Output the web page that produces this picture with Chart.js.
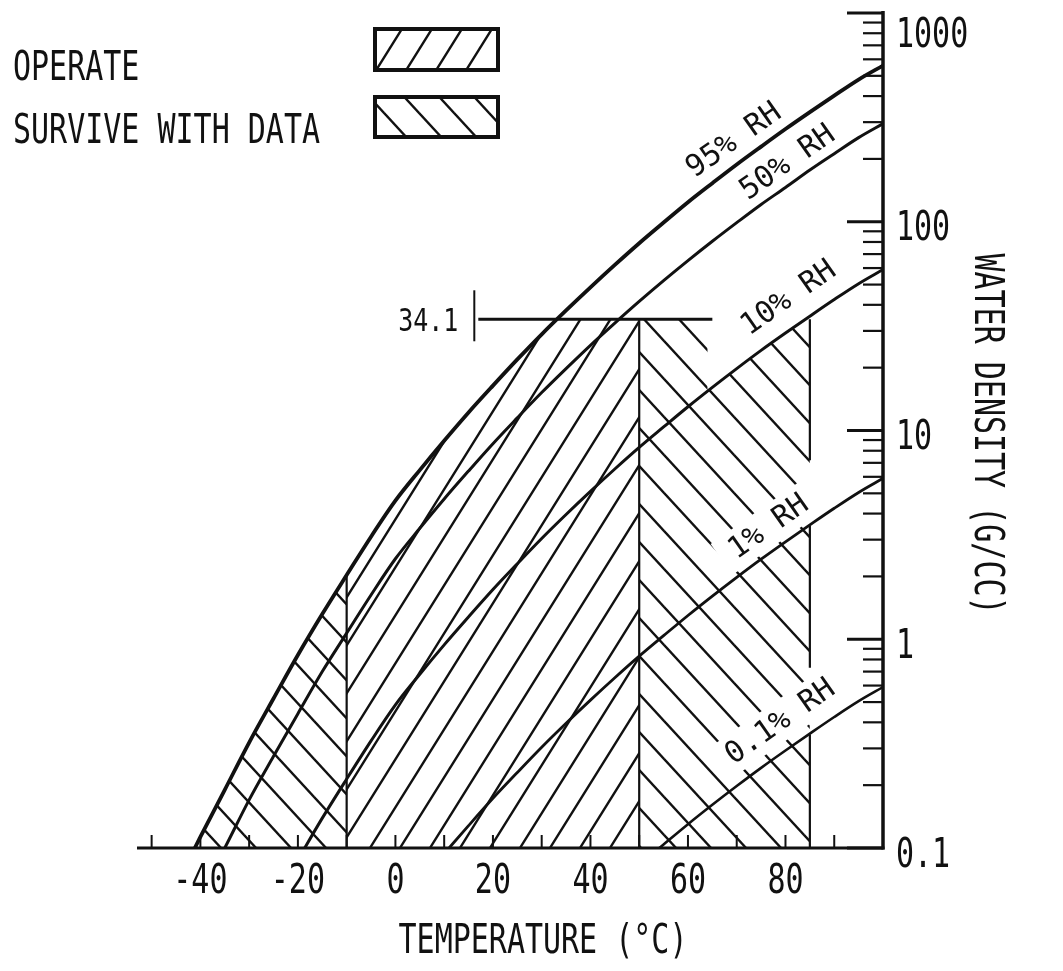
<!DOCTYPE html>
<html><head><meta charset="utf-8">
<script src="https://cdn.jsdelivr.net/npm/chart.js@4.4.1/dist/chart.umd.min.js"></script>
<style>html,body{margin:0;padding:0;background:#fff}#wrap{width:1063px;height:971px;position:relative}</style>
</head><body><div id="wrap"><canvas id="c"></canvas></div>
<script>
// ---- data ----
const temps = [-45,-40,-35,-30,-25,-20,-15,-10,-5,0,5,10,15,20,25,30,35,40,45,50,55,60,65,70,75,80,85,90,95,100];
const rh95 = [0.066,0.113,0.19,0.32,0.52,0.84,1.32,2.03,3.10,4.61,6.46,8.93,12.2,16.4,21.9,28.9,37.6,48.5,62.1,78.9,99.1,124,153,188,229,278,335,402,480,560];
const rh50 = [null,0.06,0.10,0.17,0.275,0.44,0.70,1.07,1.63,2.43,3.40,4.70,6.40,8.65,11.5,15.2,19.8,25.6,32.7,41.5,52.2,65.1,80.6,99.0,121,146,177,212,253,295];
const rh10 = [null,null,null,null,null,0.088,0.139,0.214,0.326,0.485,0.68,0.94,1.28,1.73,2.30,3.04,3.96,5.11,6.54,8.30,10.4,13.0,16.1,19.8,24.2,29.3,35.3,42.4,50.5,59.0];
const rh1  = [null,null,null,null,null,null,null,null,null,null,null,0.094,0.128,0.173,0.230,0.304,0.396,0.511,0.654,0.83,1.04,1.30,1.61,1.98,2.42,2.93,3.53,4.24,5.05,5.9];
const rh01 = [null,null,null,null,null,null,null,null,null,null,null,null,null,null,null,null,null,null,null,0.083,0.104,0.130,0.161,0.198,0.242,0.293,0.353,0.424,0.505,0.59];

const curveLabels = ['95% RH','50% RH','10% RH','1% RH','0.1% RH'];
const curveLabelT = [69.5, 80.5, 80.7, 76.6, 79.0];
const curveLabelV = [244, 191, 42.9, 3.43, 0.40];

const operateT = [-10,-5,0,5,10,15,20,25,30,33,50];
const operateV = [2.03,3.10,4.61,6.46,8.93,12.2,16.4,21.9,28.9,34.1,34.1];
const surviveLowT = [-41,-40,-35,-30,-25,-20,-15,-10];
const surviveLowV = [0.1,0.113,0.19,0.32,0.52,0.84,1.32,2.03];
const surviveHighT = [50,64,64,65,70,75,80,85];
const surviveHighV = [34.1,34.1,15.5,16.1,19.8,24.2,29.3,34.1];

const limitValue = 34.1;
const limitT = [17, 65];
const limitLabel = '34.1';
const edgeLowT = -10, edgeLowTop = 2.03;
const edgeMidT = 50;
const edgeHighT = 85;
const edgeHighSegs = [[34.1, 7.2], [3.5, 0.73], [0.35, 0.1]];

const xTickValues = [-50,-40,-30,-20,-10,0,10,20,30,40,50,60,70,80,90];
const xLabelValues = [-40,-20,0,20,40,60,80];
const yMajorValues = [0.1,1,10,100,1000];
const yTickLabels = ['0.1','1','10','100','1000'];
const legendLabels = ['OPERATE','SURVIVE WITH DATA'];
const xTitle = 'TEMPERATURE (°C)';
const yTitle = 'WATER DENSITY (G/CC)';

// ---- helpers ----
const canvas = document.getElementById('c');
const ctx0 = canvas.getContext('2d');
function makeHatch(w, h, rising, lw) {
  const c = document.createElement('canvas'); c.width = w; c.height = h;
  const g = c.getContext('2d');
  g.strokeStyle = '#111'; g.lineWidth = lw; g.lineCap = 'square';
  for (const dx of [-w, 0, w]) {
    g.beginPath();
    if (rising) { g.moveTo(dx, h); g.lineTo(dx + w, 0); }
    else { g.moveTo(dx, 0); g.lineTo(dx + w, h); }
    g.stroke();
  }
  return ctx0.createPattern(c, 'repeat');
}
const patOperate = makeHatch(30, 48, true, 2.4);
const patSurvive = makeHatch(35, 38, false, 2.4);

const pts = (T, V) => T.map((t, i) => V[i] == null ? null : {x: t, y: V[i]}).filter(p => p);
const FONT = '"DejaVu Sans Mono", "Liberation Mono", monospace';
function txt(ctx, s, x, y, o) {
  ctx.save();
  ctx.translate(x, y);
  if (o.rot) ctx.rotate(o.rot);
  ctx.scale(o.sx || 1, 1);
  ctx.font = `${o.size}px ${FONT}`;
  ctx.textAlign = o.align || 'left';
  ctx.textBaseline = o.base || 'alphabetic';
  ctx.fillStyle = '#111';
  ctx.fillText(s, 0, 0);
  ctx.restore();
}
const LABEL_ROT = -35 * Math.PI / 180;
const boxedLabels = [3, 4];

const deco = {
  id: 'deco',
  beforeDatasetsDraw(chart) {
    const {ctx, scales: {x, y}} = chart;
    ctx.save();
    ctx.font = `30px ${FONT}`;
    boxedLabels.forEach(i => {
      const w = ctx.measureText(curveLabels[i]).width;
      ctx.save();
      ctx.translate(x.getPixelForValue(curveLabelT[i]), y.getPixelForValue(curveLabelV[i]));
      ctx.rotate(LABEL_ROT);
      ctx.fillStyle = '#fff';
      ctx.fillRect(-w / 2 - 12, -20, w + 24, 38);
      ctx.restore();
    });
    ctx.restore();
  },
  afterDatasetsDraw(chart) {
    const {ctx, chartArea: a, scales: {x, y}} = chart;
    ctx.save();
    ctx.strokeStyle = '#111';
    ctx.lineCap = 'butt';
    // axes
    ctx.lineWidth = 3;
    ctx.beginPath(); ctx.moveTo(a.left, a.bottom); ctx.lineTo(a.right + 1.5, a.bottom); ctx.stroke();
    ctx.lineWidth = 3.5;
    ctx.beginPath(); ctx.moveTo(a.right, a.top - 2); ctx.lineTo(a.right, a.bottom + 1.5); ctx.stroke();
    // x ticks (pointing up)
    ctx.lineWidth = 2;
    xTickValues.forEach(v => {
      const px = x.getPixelForValue(v);
      ctx.beginPath(); ctx.moveTo(px, a.bottom); ctx.lineTo(px, a.bottom - 13); ctx.stroke();
    });
    // y ticks (pointing left)
    yMajorValues.forEach((v, i) => {
      const py = y.getPixelForValue(v);
      ctx.lineWidth = 3;
      ctx.beginPath(); ctx.moveTo(a.right, py); ctx.lineTo(a.right - 36, py); ctx.stroke();
      if (i < yMajorValues.length - 1) {
        ctx.lineWidth = 2.2;
        for (let m = 2; m <= 9; m++) {
          const pm = y.getPixelForValue(v * m);
          ctx.beginPath(); ctx.moveTo(a.right, pm); ctx.lineTo(a.right - 20, pm); ctx.stroke();
        }
      }
    });
    // 34.1 marker bar
    const ly = y.getPixelForValue(limitValue);
    const lx = x.getPixelForValue(limitT[0]);
    ctx.lineWidth = 2;
    ctx.beginPath(); ctx.moveTo(lx - 4, ly - 29); ctx.lineTo(lx - 4, ly + 22); ctx.stroke();
    txt(ctx, limitLabel, lx - 20, ly + 11.5, {size: 32, sx: 0.78, align: 'right'});

    // tick labels
    xLabelValues.forEach(v => {
      txt(ctx, String(v), x.getPixelForValue(v), a.bottom + 45, {size: 40, sx: 0.75, align: 'center'});
    });
    yMajorValues.forEach((v, i) => {
      let cy = y.getPixelForValue(v) + 4;
      cy = Math.max(cy, a.top + 19);
      txt(ctx, yTickLabels[i], a.right + 13, cy + 14.5, {size: 40, sx: 0.75});
    });
    // titles
    txt(ctx, xTitle, 543, a.bottom + 105, {size: 40, sx: 0.75, align: 'center'});
    txt(ctx, yTitle, 985, 434, {size: 40, sx: 0.75, align: 'center', base: 'middle', rot: Math.PI / 2});
    // curve labels
    curveLabels.forEach((s, i) => {
      txt(ctx, s, x.getPixelForValue(curveLabelT[i]), y.getPixelForValue(curveLabelV[i]),
          {size: 30, align: 'center', base: 'middle', rot: LABEL_ROT});
    });
    // legend
    const boxes = [[375, 29, 123, 41], [375, 97, 123, 40]];
    const pats = [patOperate, patSurvive];
    const baselines = [80, 143];
    legendLabels.forEach((s, i) => {
      txt(ctx, s, 13, baselines[i], {size: 40, sx: 0.75});
      const [bx, by, bw, bh] = boxes[i];
      ctx.fillStyle = pats[i];
      ctx.fillRect(bx, by, bw, bh);
      ctx.lineWidth = 4;
      ctx.strokeRect(bx, by, bw, bh);
    });
    ctx.restore();
  }
};

const curveStyle = (data, w) => ({data, showLine: true, borderColor: '#111', borderWidth: w, pointRadius: 0,
  fill: false, tension: 0.3, cubicInterpolationMode: 'monotone', order: 1});
const regionStyle = (data, pat) => ({data, showLine: true, borderWidth: 0, borderColor: 'rgba(0,0,0,0)',
  backgroundColor: pat, pointRadius: 0, fill: 'start', tension: 0, order: 10});
const segStyle = (data, w) => ({data, showLine: true, borderColor: '#111', borderWidth: w, pointRadius: 0,
  fill: false, tension: 0, order: 2});

const datasets = [
  regionStyle(pts(operateT, operateV), patOperate),
  regionStyle(pts(surviveLowT, surviveLowV), patSurvive),
  regionStyle(pts(surviveHighT, surviveHighV), patSurvive),
  curveStyle(pts(temps, rh95), 3.8),
  curveStyle(pts(temps, rh50), 3),
  curveStyle(pts(temps, rh10), 3),
  curveStyle(pts(temps, rh1), 2.8),
  curveStyle(pts(temps, rh01), 2.6),
  segStyle(limitT.map(t => ({x: t, y: limitValue})), 3),
  segStyle([{x: edgeLowT, y: 0.1}, {x: edgeLowT, y: edgeLowTop}], 2.2),
  segStyle([{x: edgeMidT, y: 0.1}, {x: edgeMidT, y: limitValue}], 2.2),
  ...edgeHighSegs.map(s => segStyle([{x: edgeHighT, y: s[0]}, {x: edgeHighT, y: s[1]}], 2.2))
];

new Chart(canvas, {
  type: 'scatter',
  data: {datasets},
  options: {
    animation: false,
    responsive: true,
    maintainAspectRatio: false,
    devicePixelRatio: 1,
    layout: {padding: {left: 137, right: 180, top: 13, bottom: 123}},
    scales: {
      x: {type: 'linear', min: -53, max: 100, display: false},
      y: {type: 'logarithmic', min: 0.1, max: 1000, display: false, position: 'right'}
    },
    plugins: {legend: {display: false}, tooltip: {enabled: false}, filler: {drawTime: 'beforeDatasetsDraw'}}
  },
  plugins: [deco]
});
</script>
</body></html>
